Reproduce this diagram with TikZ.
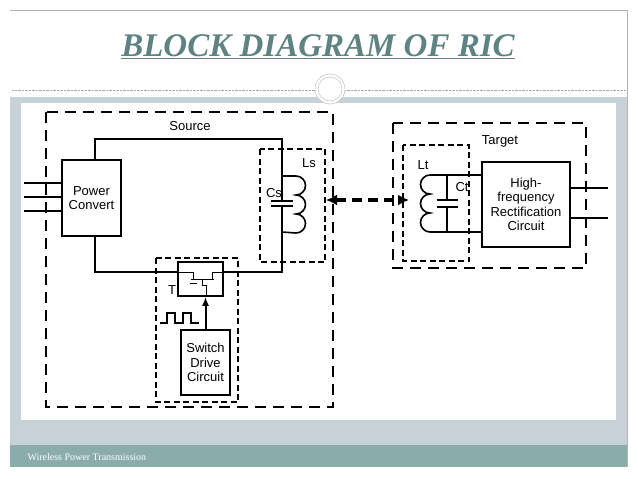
\documentclass[tikz,border=0pt]{standalone}
\usepackage{fontspec}
\setmainfont{Liberation Sans}
\newfontfamily\titlefont{Liberation Serif}
\usetikzlibrary{arrows.meta,positioning}
\definecolor{titlegray}{HTML}{5F8282}
\definecolor{panelgray}{HTML}{C6D2D8}
\definecolor{barteal}{HTML}{8AACAC}
\tikzset{
    block/.style={draw,line width=1.6pt,align=center,font=\fontsize{13}{14.5}\selectfont,inner sep=1pt},
    frame/.style={draw,line width=1.4pt,dash pattern=on 11pt off 7pt},
    subframe/.style={draw,line width=1.2pt,dash pattern=on 6pt off 3.5pt},
    wire/.style={line width=1.6pt},
    lbl/.style={font=\fontsize{13}{14}\selectfont,inner sep=0pt},
}
\begin{document}
\begin{tikzpicture}[x=1pt,y=-1pt]
\useasboundingbox (0,0) rectangle (638,479);
% slide background
\fill[panelgray] (10,97) rectangle (627,445);
\fill[white] (21,103) rectangle (616,420);
\fill[barteal] (10,445) rectangle (627,467);
\draw[gray!60] (10,10) -- (627,10) -- (627,467);
\draw[gray!70,densely dotted] (12,90) -- (626,90);
\draw[gray!60,fill=white] (330,89) circle(15);
\draw[gray!60] (330,89) circle(12);
\node[font=\titlefont\fontsize{33}{36}\selectfont\bfseries\itshape,text=titlegray] (title) at (318,47)
    {\underline{BLOCK DIAGRAM OF RIC}};
\node[font=\titlefont\fontsize{10}{12}\selectfont,text=white,anchor=west] (footer) at (24,457)
    {Wireless Power Transmission};

% source side
\draw[frame] (46,112) rectangle (333,407);
\node[lbl] (src) at (190,126) {Source};
\node[block,minimum width=59pt,minimum height=76pt] (pc) at (91.5,198) {Power\\Convert};
\foreach \y in {183,197,211}
    \draw[wire] (24,\y) -- (pc.west |- 0,\y);
\draw[subframe] (260,149) rectangle (325,262);
\coordinate (ltop) at (282,176);
\coordinate (lbot) at (282,232);
\draw[wire] (95,160) -- (95,139) -- (282,139) -- (ltop) -- (296,176)
    arc (-90:90:9.5) arc (-90:90:9.5) arc (-90:90:9.5) -- (lbot) -- (282,272) -- (223,272);
\draw[wire] (ltop) -- (282,201) (lbot) -- (282,206);
\draw[line width=2.2pt] (271,201) -- (293,201) (271,206) -- (293,206);
\node[lbl] (cs) at (274,193) {Cs};
\node[lbl] (ls) at (309,163) {Ls};

% switch
\draw[subframe] (156,258) rectangle (238,402);
\node[block,minimum width=45pt,minimum height=34pt] (tr) at (200.5,279) {};
\draw[wire] (95,236) -- (95,272) -- (tr.west |- 0,272);
\draw[thick] (178,272) -- (193,272) -- (193,279) (223,272) -- (212,272) -- (212,279)
    (191,279) -- (214,279) (202,279) -- (202,285) -- (206,285) -- (206,296)
    (190,283) -- (197,283);
\node[lbl] (t) at (172,290) {T};
\draw[wire] (160,323) -- (167,323) -- (167,313) -- (175,313) -- (175,323)
    -- (183,323) -- (183,313) -- (191,313) -- (191,323) -- (199,323);
\node[block,minimum width=49pt,minimum height=65pt] (sd) at (205.5,362.5) {Switch\\Drive\\Circuit};
\draw[line width=2pt,-{Latex[length=9pt,width=7pt]}] (sd.north) -- (sd.north |- tr.south);

% coupling
\coordinate (cs1) at (326,200);
\coordinate (ct1) at (409,200);
\draw[line width=3.2pt,dash pattern=on 10pt off 6pt,
    {Latex[length=11pt,width=11pt]}-{Latex[length=11pt,width=11pt]}] (cs1) -- (ct1);

% target side
\draw[frame] (393,123) rectangle (586,268);
\node[lbl] (tgt) at (500,141) {Target};
\draw[subframe] (403,145) rectangle (469,261);
\node[block,minimum width=88pt,minimum height=85pt] (hf) at (526,204.5)
    {High-\\frequency\\Rectification\\Circuit};
\coordinate (lttop) at (430,175);
\coordinate (ltbot) at (430,232);
\draw[wire] (hf.west |- 0,175) -- (lttop) arc (-90:-270:9.5) arc (-90:-270:9.5) arc (-90:-270:9.5)
    -- (hf.west |- 0,232);
\draw[wire] (447,175) -- (447,200) (447,207) -- (447,232);
\draw[line width=2.2pt] (437,200) -- (458,200) (437,207) -- (458,207);
\node[lbl] (lt) at (423,165) {Lt};
\node[lbl] (ct) at (462,187) {Ct};
\foreach \y in {188,218}
    \draw[wire] (hf.east |- 0,\y) -- (608,\y);
\end{tikzpicture}
\end{document}
